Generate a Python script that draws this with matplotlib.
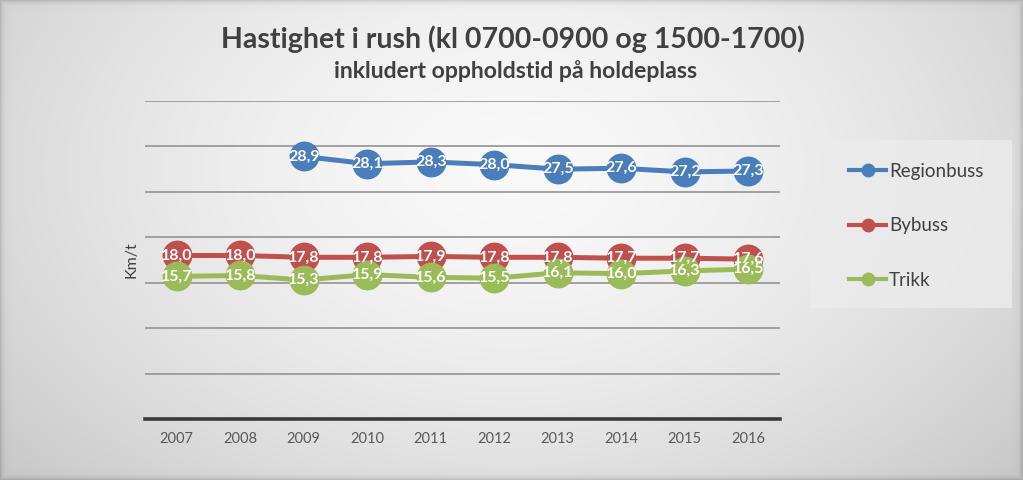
import numpy as np
import matplotlib
matplotlib.use("Agg")
import matplotlib.pyplot as plt
from matplotlib.lines import Line2D
from matplotlib.patches import Rectangle

years = ["2007", "2008", "2009", "2010", "2011", "2012", "2013", "2014", "2015", "2016"]
regionbuss = [None, None, 28.9, 28.1, 28.3, 28.0, 27.5, 27.6, 27.2, 27.3]
bybuss = [18.0, 18.0, 17.8, 17.8, 17.9, 17.8, 17.8, 17.7, 17.7, 17.6]
trikk = [15.7, 15.8, 15.3, 15.9, 15.6, 15.5, 16.1, 16.0, 16.3, 16.5]
series_names = ["Regionbuss", "Bybuss", "Trikk"]
colors = ["#4a7ebb", "#c0504d", "#9bbb59"]

plt.rcParams['font.family'] = ['Lato', 'DejaVu Sans']

fig = plt.figure(figsize=(10.23, 4.8), dpi=100)

# background gradient
bg = fig.add_axes([0, 0, 1, 1], zorder=-10)
H, W = 480, 1023
yy, xx = np.mgrid[0:H, 0:W]
cx, cy = W * 0.5, H * 0.35
d = np.sqrt(((xx - cx) / (W * 0.62)) ** 2 + ((yy - cy) / (H * 0.9)) ** 2)
v = 0.975 - 0.17 * np.clip(d, 0, 1.2) ** 1.6
edge = np.minimum.reduce([xx, W - 1 - xx, yy, H - 1 - yy]).astype(float)
v = v - 0.12 * np.exp(-edge / 2.5)
img = np.dstack([v, v, v])
bg.imshow(np.clip(img, 0, 1), aspect='auto', extent=[0, 1, 0, 1], origin='upper')
bg.set_axis_off()

ax = fig.add_axes([0.1417, 0.127, 0.6208, 0.6625])
ax.set_facecolor('none')
x = np.arange(len(years))

for name, vals, c in zip(series_names, [regionbuss, bybuss, trikk], colors):
    xs = [i for i, v_ in enumerate(vals) if v_ is not None]
    ys = [v_ for v_ in vals if v_ is not None]
    ax.plot(xs, ys, color=c, lw=3.6, marker='o', markersize=21.5,
            markeredgewidth=0, zorder=3, solid_capstyle='round')
    for xi, yi in zip(xs, ys):
        ax.text(xi, yi, f"{yi:.1f}".replace('.', ','), ha='center', va='center',
                color='white', fontsize=11.5, fontweight='bold', zorder=5)

ax.set_xlim(-0.5, len(years) - 0.5)
ax.set_ylim(0, 35)
ax.set_yticks(np.arange(0, 36, 5))
ax.set_yticklabels([])
ax.tick_params(axis='y', length=0)
ax.grid(axis='y', color='#9a9a9a', lw=1.3, zorder=0)
ax.set_axisbelow(True)
ax.set_xticks(x)
ax.set_xticklabels(years, fontsize=10.5, color='#595959')
ax.tick_params(axis='x', length=0, pad=9)
for s in ['top', 'right', 'left']:
    ax.spines[s].set_visible(False)
ax.spines['bottom'].set_color('#3a3a3a')
ax.spines['bottom'].set_linewidth(2.6)
ax.set_ylabel("Km/t", fontsize=11.5, color='#404040', labelpad=1)

fig.text(0.501, 0.918, "Hastighet i rush (kl 0700-0900 og 1500-1700)", ha='center', va='center',
         fontsize=20.5, fontweight='bold', color='#404040')
fig.text(0.5035, 0.853, "inkludert oppholdstid på holdeplass", ha='center', va='center',
         fontsize=16.6, fontweight='bold', color='#404040')

# legend background
fig.patches.append(Rectangle((810 / W, 1 - 308 / H), 202 / W, 168 / H, transform=fig.transFigure,
                             facecolor='#ebebeb', edgecolor='none', alpha=0.85, zorder=-5))
handles = [Line2D([0], [0], color=c, lw=3, marker='o', markersize=10, markeredgewidth=0)
           for c in colors]
leg = fig.legend(handles, series_names, loc='upper left', bbox_to_anchor=(832 / W, 1 - 146 / H),
                 frameon=False, fontsize=13.5, labelspacing=2.0, handlelength=2.0,
                 handletextpad=0.15, labelcolor='#404040')

fig.savefig("out.png", dpi=100)
